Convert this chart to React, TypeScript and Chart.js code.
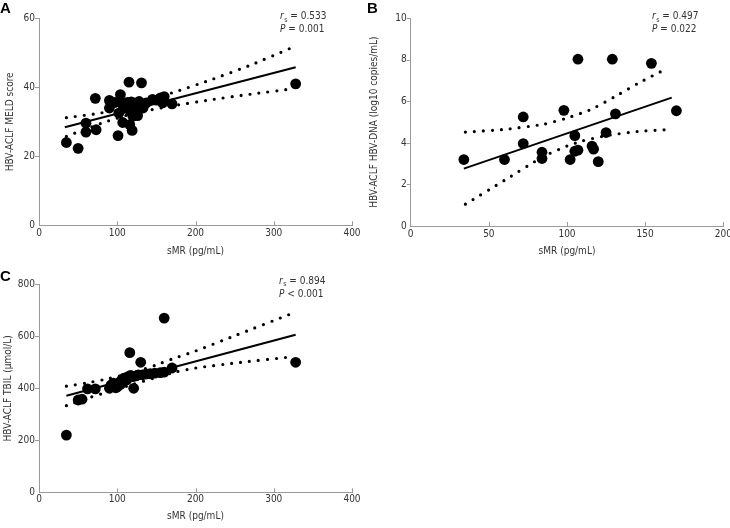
import React, { useEffect, useRef } from 'react';
import { Chart, registerables } from 'chart.js';

Chart.register(...registerables);

const FONT = "'DejaVu Sans Condensed', 'DejaVu Sans', sans-serif";
const TEXT = '#333333';
const AXIS = '#9a9a9a';

// ---------- Panel A: sMR vs MELD score ----------
const aSmr = [35, 50, 60, 60, 72, 73, 90, 90, 97, 101, 102, 104, 106, 107, 108, 110, 113, 115, 116, 117, 118, 119, 120, 122, 125, 125, 126, 128, 131, 133, 137, 145, 150, 155, 158, 160, 170, 328];
const aMeld = [24, 22.3, 29.6, 27, 36.8, 27.7, 36.2, 34, 35.6, 26, 32.5, 37.9, 35.4, 29.8, 33.9, 34.8, 35.6, 41.5, 29.2, 33, 35.8, 27.5, 31.6, 34.2, 35.5, 33.4, 31.8, 35.9, 41.3, 34, 35.5, 36.5, 36.3, 36.9, 35.5, 37.3, 35.2, 41];
const aFitX = [33, 328];
const aFitY = [28.4, 45.8];
const aUpperX = [35, 80, 120, 170, 220, 270, 320];
const aUpperY = [31.2, 32.6, 35, 38.4, 42.2, 46.4, 51.2];
const aLowerX = [35, 80, 120, 170, 220, 270, 326];
const aLowerY = [25.8, 29.6, 32.4, 34.6, 36.4, 38, 39.6];

// ---------- Panel B: sMR vs HBV-DNA ----------
const bSmr = [34, 60, 72, 72, 84, 84, 98, 102, 105, 105, 107, 107, 116, 117, 120, 125, 129, 131, 154, 170];
const bDna = [3.2, 3.2, 5.25, 3.97, 3.55, 3.25, 5.57, 3.2, 4.35, 3.6, 3.65, 8.03, 3.85, 3.7, 3.1, 4.5, 8.03, 5.4, 7.83, 5.55];
const bFitX = [34, 167];
const bFitY = [2.76, 6.18];
const bUpperX = [35, 60, 85, 100, 115, 130, 145, 163];
const bUpperY = [4.52, 4.65, 4.9, 5.2, 5.6, 6.2, 6.85, 7.55];
const bLowerX = [35, 60, 85, 100, 110, 125, 145, 167];
const bLowerY = [1.05, 2.2, 3.35, 3.85, 4.1, 4.35, 4.55, 4.65];

// ---------- Panel C: sMR vs TBIL ----------
const cSmr = [35, 50, 55, 62, 72, 90, 92, 95, 98, 100, 102, 104, 105, 107, 108, 110, 112, 114, 116, 117, 120, 121, 124, 127, 130, 132, 137, 142, 148, 155, 160, 160, 170, 328];
const cTbil = [220, 355, 358, 398, 398, 400, 412, 420, 402, 405, 420, 415, 430, 425, 438, 440, 432, 445, 537, 450, 445, 400, 448, 452, 500, 452, 455, 456, 458, 460, 462, 670, 478, 500];
const cFitX = [35, 328];
const cFitY = [371, 606];
const cUpperX = [35, 60, 90, 120, 150, 172, 197, 250, 320];
const cUpperY = [408, 420, 438, 460, 490, 515, 540, 602, 684];
const cLowerX = [35, 60, 90, 120, 150, 176, 200, 250, 326];
const cLowerY = [333, 360, 388, 415, 442, 464, 478, 497, 522];

const xTitle = 'sMR (pg/mL)';
const yTitles = ['HBV-ACLF MELD score', 'HBV-ACLF HBV-DNA (log10 copies/mL)', 'HBV-ACLF TBIL (µmol/L)'];
const rsValues = ['0.533', '0.497', '0.894'];
const pTexts = ['= 0.001', '= 0.022', '< 0.001'];
const panelLetters = ['A', 'B', 'C'];

const zip = (xs: number[], ys: number[]) => xs.map((x, i) => ({ x, y: ys[i] }));

type Spec = {
  letter: string;
  left: number; top: number; width: number; height: number;
  letterX: number; letterY: number;
  xMax: number; xStep: number; yMax: number; yStep: number;
  yTitle: string;
  points: { x: number; y: number }[];
  fit: { x: number; y: number }[];
  upper: { x: number; y: number }[];
  lower: { x: number; y: number }[];
  yW: number; xH: number; padTop: number; padRight: number;
  xTickPad: number; xTitlePad: number; yTitlePad: number;
  annX: number; annY1: number; annY2: number; rs: string; p: string;
};

const specs: Spec[] = [
  {
    letter: panelLetters[0], left: 0, top: 0, width: 365, height: 260, letterX: 0, letterY: 0,
    xMax: 400, xStep: 100, yMax: 60, yStep: 20, yTitle: yTitles[0],
    points: zip(aSmr, aMeld), fit: zip(aFitX, aFitY), upper: zip(aUpperX, aUpperY), lower: zip(aLowerX, aLowerY),
    yW: 39, xH: 34.7, padTop: 18.3, padRight: 13, xTickPad: 2, xTitlePad: 2.5, yTitlePad: 4,
    annX: 280, annY1: 19.3, annY2: 32.3, rs: rsValues[0], p: pTexts[0],
  },
  {
    letter: panelLetters[1], left: 365, top: 0, width: 365, height: 260, letterX: 367, letterY: 0,
    xMax: 200, xStep: 50, yMax: 10, yStep: 2, yTitle: yTitles[1],
    points: zip(bSmr, bDna), fit: zip(bFitX, bFitY), upper: zip(bUpperX, bUpperY), lower: zip(bLowerX, bLowerY),
    yW: 45.7, xH: 34, padTop: 18.3, padRight: 6.7, xTickPad: 2, xTitlePad: 2.7, yTitlePad: 3.2,
    annX: 287, annY1: 19.3, annY2: 32.3, rs: rsValues[1], p: pTexts[1],
  },
  {
    letter: panelLetters[2], left: 0, top: 260, width: 365, height: 268, letterX: 0, letterY: 268,
    xMax: 400, xStep: 100, yMax: 800, yStep: 200, yTitle: yTitles[2],
    points: zip(cSmr, cTbil), fit: zip(cFitX, cFitY), upper: zip(cUpperX, cUpperY), lower: zip(cLowerX, cLowerY),
    yW: 39, xH: 35.7, padTop: 24.3, padRight: 13, xTickPad: 1, xTitlePad: 6, yTitlePad: 2.3,
    annX: 279, annY1: 23.5, annY2: 36.5, rs: rsValues[2], p: pTexts[2],
  },
];

const tickMarks = {
  id: 'tickMarks',
  afterDatasetsDraw(chart: any) {
    const { ctx, chartArea, scales } = chart;
    ctx.save();
    ctx.strokeStyle = AXIS;
    ctx.lineWidth = 1;
    ctx.beginPath();
    const xs = scales.x;
    xs.ticks.forEach((t: any) => {
      if (t.value === xs.min) return;
      const px = Math.round(xs.getPixelForValue(t.value)) + 0.5;
      ctx.moveTo(px, chartArea.bottom);
      ctx.lineTo(px, chartArea.bottom - 4);
    });
    const ys = scales.y;
    ys.ticks.forEach((t: any) => {
      if (t.value === ys.min) return;
      const py = Math.round(ys.getPixelForValue(t.value)) + 0.5;
      ctx.moveTo(chartArea.left - 4, py);
      ctx.lineTo(chartArea.left, py);
    });
    ctx.stroke();
    ctx.restore();
  },
};

function annotPlugin(spec: Spec) {
  return {
    id: 'annot',
    afterDraw(chart: any) {
      const ctx = chart.ctx;
      ctx.save();
      ctx.fillStyle = TEXT;
      ctx.textBaseline = 'alphabetic';
      ctx.textAlign = 'left';
      const x = spec.annX;
      ctx.font = `italic 10px ${FONT}`;
      ctx.fillText('r', x, spec.annY1);
      const w = ctx.measureText('r').width;
      ctx.font = `7px ${FONT}`;
      ctx.fillText('s', x + w + 0.5, spec.annY1 + 2.5);
      const w2 = ctx.measureText('s').width;
      ctx.font = `10px ${FONT}`;
      ctx.fillText(' = ' + spec.rs, x + w + w2 + 0.5, spec.annY1);
      ctx.font = `italic 10px ${FONT}`;
      ctx.fillText('P', x, spec.annY2);
      const wp = ctx.measureText('P').width;
      ctx.font = `10px ${FONT}`;
      ctx.fillText(' ' + spec.p, x + wp, spec.annY2);
      ctx.restore();
    },
  };
}

function Panel({ spec }: { spec: Spec }) {
  const ref = useRef<HTMLCanvasElement>(null);
  useEffect(() => {
    if (!ref.current) return;
    const dotted = {
      showLine: true, pointRadius: 0, borderColor: '#000', borderWidth: 3.2,
      borderDash: [0, 9], borderCapStyle: 'round', tension: 0.2, fill: false,
    };
    const chart = new Chart(ref.current, {
      type: 'scatter',
      data: {
        datasets: [
          { data: spec.points, pointRadius: 5.4, pointHoverRadius: 5.4, backgroundColor: '#000', borderWidth: 0, showLine: false },
          { data: spec.fit, showLine: true, pointRadius: 0, borderColor: '#000', borderWidth: 2 },
          { data: spec.upper, ...dotted },
          { data: spec.lower, ...dotted },
        ] as any,
      },
      options: {
        animation: false,
        responsive: false,
        events: [],
        layout: { padding: { left: 0, top: spec.padTop, right: spec.padRight, bottom: 0 } },
        plugins: { legend: { display: false }, tooltip: { enabled: false } },
        scales: {
          x: {
            type: 'linear', min: 0, max: spec.xMax,
            grid: { display: false, drawTicks: false },
            border: { display: true, color: AXIS, width: 1 },
            ticks: { stepSize: spec.xStep, padding: spec.xTickPad, color: TEXT, font: { family: FONT, size: 10 }, maxRotation: 0 },
            title: { display: true, text: xTitle, color: TEXT, font: { family: FONT, size: 10 }, padding: { top: 0, bottom: spec.xTitlePad } },
            afterFit: (s: any) => { s.height = spec.xH; s.paddingLeft = 0; s.paddingRight = 0; },
          },
          y: {
            type: 'linear', min: 0, max: spec.yMax,
            grid: { display: false, drawTicks: false },
            border: { display: true, color: AXIS, width: 1 },
            ticks: { stepSize: spec.yStep, padding: 4, color: TEXT, font: { family: FONT, size: 10 } },
            title: { display: true, text: spec.yTitle, color: TEXT, font: { family: FONT, size: 10 }, padding: { top: spec.yTitlePad, bottom: 0 } },
            afterFit: (s: any) => { s.width = spec.yW; s.paddingTop = 0; s.paddingBottom = 0; },
          },
        },
      } as any,
      plugins: [tickMarks, annotPlugin(spec)],
    });
    return () => chart.destroy();
  }, [spec]);
  return (
    <canvas
      ref={ref}
      width={spec.width}
      height={spec.height}
      style={{ position: 'absolute', left: spec.left, top: spec.top, width: spec.width, height: spec.height, display: 'block' }}
    />
  );
}

export default function App() {
  return (
    <div style={{ position: 'absolute', left: 0, top: 0, width: 730, height: 528, background: '#fff', overflow: 'hidden' }}>
      {specs.map((s) => (
        <Panel key={s.letter} spec={s} />
      ))}
      {specs.map((s) => (
        <div
          key={'l' + s.letter}
          style={{
            position: 'absolute', left: s.letterX, top: s.letterY, font: "bold 15px 'Liberation Sans', Arial, sans-serif",
            lineHeight: '15px', color: '#000',
          }}
        >
          {s.letter}
        </div>
      ))}
    </div>
  );
}
